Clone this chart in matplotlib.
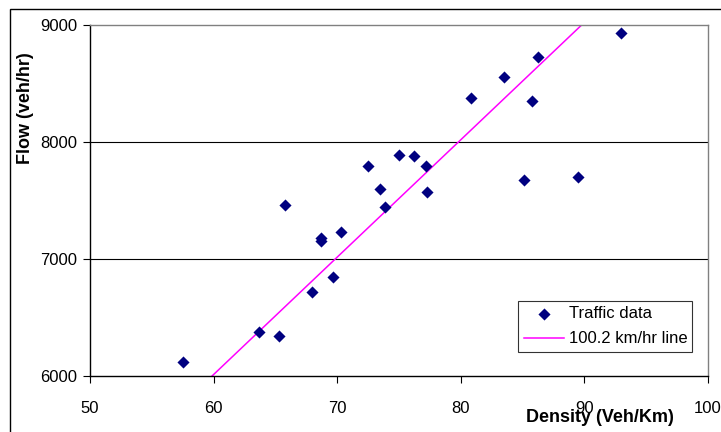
import numpy as np
import matplotlib.pyplot as plt
from matplotlib.patches import Rectangle

plt.rcParams['font.family'] = ['Liberation Sans', 'DejaVu Sans']

density = [57.5, 63.7, 65.3, 65.8, 68.0, 68.7, 68.7, 69.7, 70.3, 72.5, 73.5, 73.9,
           75.0, 76.2, 77.2, 77.3, 80.8, 83.5, 85.1, 85.8, 86.3, 89.5, 93.0]
flow = [6117, 6376, 6342, 7460, 6717, 7176, 7150, 6848, 7230, 7796, 7594, 7441,
        7890, 7879, 7796, 7571, 8374, 8551, 7676, 8351, 8727, 7699, 8932]

speed = 100.2  # km/hr, slope of the reference line
line_density = [50, 100]

fig = plt.figure(figsize=(7.21, 4.32), dpi=100)
ax = fig.add_axes([90 / 721, 1 - 376 / 432, 617.7 / 721, 351.3 / 432])

# outer chart frame (runs off the right and bottom of the picture)
fig.patches.append(Rectangle((10 / 721, -0.1), 1.2, 1 - 9.5 / 432 + 0.1,
                             transform=fig.transFigure, fill=False,
                             edgecolor='black', linewidth=1.0))

ax.scatter(density, flow, marker='D', s=38, color='#000080', zorder=3,
           label='Traffic data', linewidths=0)
ld = np.array(line_density)
ax.plot(ld, speed * ld, color='#FF00FF', linewidth=1.1, zorder=2,
        label=f'{speed} km/hr line')

ax.set_xlim(50, 100)
ax.set_ylim(6000, 9000)
ax.set_xticks([50, 60, 70, 80, 90, 100])
ax.set_yticks([6000, 7000, 8000, 9000])
ax.tick_params(direction='out', length=5, width=0.8, labelsize=12, colors='black')
ax.tick_params(axis='x', pad=13)
ax.tick_params(axis='y', pad=4)

for y in [7000, 8000]:
    ax.axhline(y, color='black', linewidth=0.8, zorder=1)

ax.spines['left'].set_color('black')
ax.spines['bottom'].set_color('black')
ax.spines['top'].set_color('#808080')
ax.spines['right'].set_color('#808080')
for s in ax.spines.values():
    s.set_linewidth(1.0)

fig.text(25 / 721, 1 - 108 / 432, 'Flow (veh/hr)', rotation=90, ha='center',
         va='center', fontsize=13, fontweight='bold')
fig.text(600 / 721, 1 - 417 / 432, 'Density (Veh/Km)', ha='center',
         va='center', fontsize=13, fontweight='bold')

leg = ax.legend(loc='lower left', bbox_to_anchor=((517.7 - 90) / 617.7, (376 - 352.3) / 351.3,
                                                   (692.3 - 517.7) / 617.7, (352.3 - 297.3) / 351.3),
                mode='expand', fontsize=12, frameon=True, fancybox=False,
                edgecolor='black', borderaxespad=0, handlelength=2.4,
                handletextpad=0.3, borderpad=0.35, labelspacing=0.6, scatterpoints=1)
leg.get_frame().set_linewidth(0.8)

fig.savefig('out.png', dpi=100)
